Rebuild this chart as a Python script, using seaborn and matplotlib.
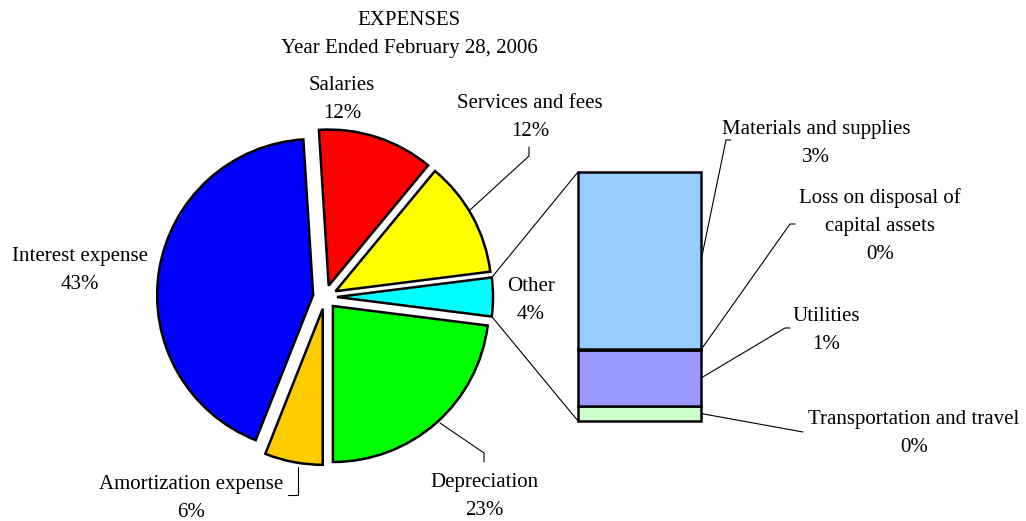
import numpy as np
import seaborn as sns
import matplotlib
matplotlib.use('Agg')
import matplotlib.pyplot as plt

sns.set_theme(style='white')
plt.rcParams['font.family'] = ['Liberation Serif', 'DejaVu Serif']

# Pie data, in drawing order (starting at "Other", going round counter-clockwise)
pie_labels = ['Other', 'Services and fees', 'Salaries', 'Interest expense',
              'Amortization expense', 'Depreciation']
pie_values = [4, 12, 12, 43, 6, 23]
pie_colors = ['#00FFFF', '#FFFF00', '#FF0000', '#0000FF', '#FFCC00', '#00FF00']

# Breakdown of "Other", stacked from the bottom of the bar
bar_labels = ['Transportation and travel', 'Utilities',
              'Loss on disposal of\ncapital assets', 'Materials and supplies']
bar_values = [0.24, 0.90, 0.01, 2.85]
bar_colors = ['#CCFFCC', '#9999FF', '#FFFFCC', '#99CCFF']

W, H = 1026, 521
fig = plt.figure(figsize=(W / 100, H / 100), dpi=100)
ax = fig.add_axes([0, 0, 1, 1])

# explode is in data units here (pixels), since radius is in pixels too
wedges, _ = ax.pie(pie_values, colors=pie_colors, startangle=7.2, counterclock=False,
                   explode=[12] * len(pie_values), center=(325, 297), radius=156,
                   wedgeprops=dict(edgecolor='black', linewidth=1.8))
ax.set_xlim(0, W)
ax.set_ylim(H, 0)
ax.axis('off')

# stacked bar for the "Other" slice
bax = fig.add_axes([578 / W, 100 / H, 123 / W, 249 / H])
bottoms = np.concatenate([[0], np.cumsum(bar_values)[:-1]])
bax.bar(0, bar_values, bottom=bottoms, width=1, color=bar_colors,
        edgecolor='black', linewidth=1.8, clip_on=False)
bax.set_xlim(-0.5, 0.5)
bax.set_ylim(0, sum(bar_values))
bax.axis('off')


def to_main(axes, pt):
    return ax.transData.inverted().transform(axes.transData.transform(pt))


# lines joining the "Other" slice to the bar
other = wedges[0]
cx, cy = other.center
for ang, by in [(other.theta1, sum(bar_values)), (other.theta2, 0)]:
    p = (cx + other.r * np.cos(np.radians(ang)), cy + other.r * np.sin(np.radians(ang)))
    q = to_main(bax, (-0.5, by))
    ax.plot([p[0], q[0]], [p[1], q[1]], color='black', lw=0.8)

fs = 15
kw = dict(ha='center', va='center', fontsize=fs, color='black')


def label(x, y, lines):
    for i, s in enumerate(lines):
        ax.text(x, y + 2.5 + i * 28, s, **kw)


label(409, 18, ['EXPENSES', 'Year Ended February 28, 2006'])

# pie labels
pie_pos = {'Other': (531, 284), 'Services and fees': (530, 101), 'Salaries': (342, 83),
           'Interest expense': (80, 254), 'Amortization expense': (191, 482),
           'Depreciation': (484, 480)}
for name, v in zip(pie_labels, pie_values):
    x, y = pie_pos[name]
    label(x, y, [name, f'{v}%'])

# pie leader lines
for pts in [[(470, 210), (529, 156), (529, 147)],
            [(440, 423), (484, 453), (484, 462)],
            [(298, 467), (298, 495), (288, 495)]]:
    xs, ys = zip(*pts)
    ax.plot(xs, ys, color='black', lw=0.8)

# bar labels and leaders
bar_pos = {'Materials and supplies': (816, 127, [(726, 140), (731, 140)]),
           'Loss on disposal of\ncapital assets': (880, 196, [(790, 224), (795, 224)]),
           'Utilities': (826, 314, [(785, 328), (790, 328)]),
           'Transportation and travel': (914, 417, [(803, 432)])}
for name, v, b in zip(bar_labels, bar_values, bottoms):
    x, y, tail = bar_pos[name]
    label(x, y, name.split('\n') + [f'{v:.0f}%'])
    start = to_main(bax, (0.5, b + v / 2))
    xs, ys = zip(*([tuple(start)] + tail))
    ax.plot(xs, ys, color='black', lw=0.8)

fig.savefig('out.png', dpi=100, facecolor='white')
